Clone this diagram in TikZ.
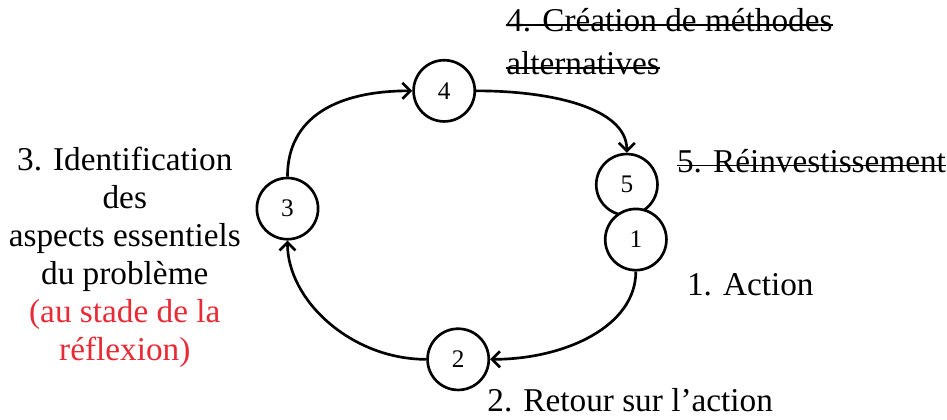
\documentclass[tikz,border=0pt]{standalone}
\usepackage{fontspec}
\setmainfont{Liberation Serif}
\usetikzlibrary{arrows.meta,positioning}
\definecolor{noteRed}{RGB}{232,42,52}

\begin{document}
\begin{tikzpicture}[x=0.75pt,y=0.75pt,yscale=-1,xscale=1,
  stage/.style={draw,circle,fill=white,line width=2pt,minimum size=46pt,inner sep=0pt,font=\fontsize{19}{19}\selectfont},
  cycarrow/.style={line width=2pt,-{Straight Barb[length=6pt,width=12pt]}},
  steptext/.style={inner sep=0pt,font=\fontsize{25}{28.5}\selectfont},
  strike/.style={line width=1.2pt}]
%set diagram left start at 0, and has height of 420
\path (0,0) rectangle (947,420);

%Shape: Circle
\node[stage] (s3) at (288,209) {3};
\node[stage] (s4) at (445,91) {4};
\node[stage] (s5) at (628,185) {5};
\node[stage] (s1) at (637,240) {1};
\node[stage] (s2) at (459,360) {2};

%Curve Lines
\draw[cycarrow] (s3.north) .. controls +(0,-60) and +(-75,0) .. (s4.west);
\draw[cycarrow] (s4.east) .. controls +(75,0) and +(0,-45) .. (s5.north);
\draw[cycarrow] (s1.south) .. controls +(0,55) and +(75,0) .. (s2.east);
\draw[cycarrow] (s2.west) .. controls +(-75,0) and +(0,60) .. (s3.south);

% Text Node
\node[steptext,anchor=base west] (t4a) at (507,32) {4. Création de méthodes};
\node[steptext,anchor=base west] (t4b) at (507,75) {alternatives};
% Text Node
\node[steptext,anchor=base west] (t5) at (678,173) {5. Réinvestissement};
% Text Node
\node[steptext,anchor=base west] (t1) at (688,296) {1. Action};
% Text Node
\node[steptext,anchor=base west] (t2) at (488,412) {2. Retour sur l’action};
% Text Node
\node[steptext,anchor=north,align=center] (t3) at (125,147) {3. Identification\\des\\aspects essentiels\\du problème\\\textcolor{noteRed}{(au stade de la}\\\textcolor{noteRed}{réflexion)}};

%Straight Lines (crossed out)
\foreach \t in {t4a,t4b,t5}
  \draw[strike] ([yshift=-5.3pt]\t.base west) -- ([yshift=-5.3pt]\t.base east);

\end{tikzpicture}
\end{document}
